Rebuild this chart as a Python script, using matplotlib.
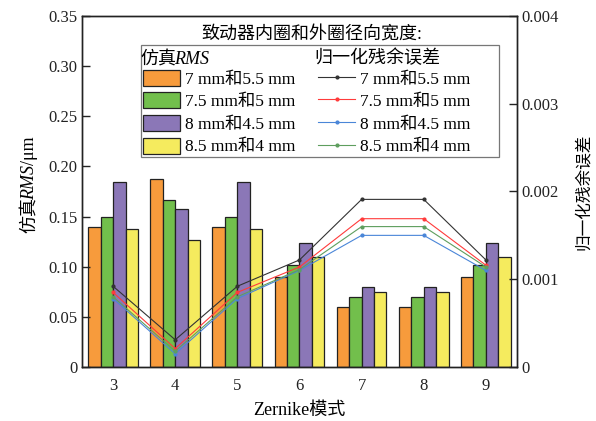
import matplotlib
matplotlib.use("Agg")
import matplotlib.pyplot as plt
import numpy as np
from matplotlib.patches import Patch
from matplotlib.lines import Line2D

plt.rcParams['font.family'] = ['Liberation Serif', 'Noto Sans CJK SC']
plt.rcParams['axes.unicode_minus'] = False

modes = [3, 4, 5, 6, 7, 8, 9]
series_labels = ['7 mm和5.5 mm', '7.5 mm和5 mm', '8 mm和4.5 mm', '8.5 mm和4 mm']
rms_7_55 = [0.140, 0.187, 0.140, 0.090, 0.060, 0.060, 0.090]
rms_75_5 = [0.150, 0.167, 0.150, 0.102, 0.070, 0.070, 0.102]
rms_8_45 = [0.184, 0.158, 0.184, 0.124, 0.080, 0.080, 0.124]
rms_85_4 = [0.138, 0.127, 0.138, 0.110, 0.075, 0.075, 0.110]
err_7_55 = [0.00092, 0.00031, 0.00092, 0.00122, 0.00191, 0.00191, 0.00122]
err_75_5 = [0.00085, 0.00021, 0.00085, 0.00114, 0.00169, 0.00169, 0.00116]
err_8_45 = [0.00078, 0.00015, 0.00078, 0.00110, 0.00150, 0.00150, 0.00110]
err_85_4 = [0.00080, 0.00018, 0.00080, 0.00111, 0.00160, 0.00160, 0.00114]

bar_colors = ['#F79B3C', '#72BF4C', '#8B77B7', '#F5EB5E']
line_colors = ['#333333', '#FF3B3B', '#4A86D8', '#5E9E5E']
rms = [rms_7_55, rms_75_5, rms_8_45, rms_85_4]
errs = [err_7_55, err_75_5, err_8_45, err_85_4]

fig = plt.figure(figsize=(5.96, 4.21), dpi=100)
ax = fig.add_axes([0.1376, 0.1283, 0.7298, 0.8337])
ax2 = ax.twinx()
ax.set_zorder(1)
ax.patch.set_visible(False)
ax2.set_zorder(2)

x = np.arange(len(modes))
w = 0.2
for i in range(4):
    ax.bar(x + (i - 1.5) * w, rms[i], w, color=bar_colors[i], edgecolor='#222222', linewidth=0.9)

for i in range(4):
    ax2.plot(x, errs[i], color=line_colors[i], lw=0.8, marker='o', ms=2)

ax.set_xlim(-0.5, len(modes) - 0.5)
ax.set_ylim(0, 0.35)
ax2.set_ylim(0, 0.004)
ax.set_xticks(x)
ax.set_xticklabels([str(m) for m in modes])
yt = [0, 0.05, 0.10, 0.15, 0.20, 0.25, 0.30, 0.35]
ax.set_yticks(yt)
ax.set_yticklabels(['0'] + ['%.2f' % v for v in yt[1:]])
yt2 = [0, 0.001, 0.002, 0.003, 0.004]
ax2.set_yticks(yt2)
ax2.set_yticklabels(['0'] + ['%.3f' % v for v in yt2[1:]])

ax.tick_params(axis='y', direction='in', length=6, width=1, labelsize=12, colors='#222222')
ax.tick_params(axis='x', length=0, labelsize=12, pad=8, colors='#222222')
ax2.tick_params(axis='y', direction='in', length=6, width=1, labelsize=12, colors='#222222')
for a in (ax, ax2):
    for s in a.spines.values():
        s.set_linewidth(1.0)
        s.set_color('#222222')

ax2.set_ylabel('归一化残余误差', fontsize=12, labelpad=12)
ax.set_xlabel('Zernike模式', fontsize=13, labelpad=6)

# legend
hdr = Patch(visible=False)
handles = [hdr] + [Patch(facecolor=bar_colors[i], edgecolor='#222222', linewidth=0.9) for i in range(4)]
handles += [hdr] + [Line2D([], [], color=line_colors[i], lw=0.8, marker='o', ms=2) for i in range(4)]
labels = [''] + series_labels + [''] + [s + '      ' for s in series_labels]
leg = ax2.legend(handles, labels, ncol=2, loc='upper left', bbox_to_anchor=(0.136, 0.917),
                 fontsize=12.5, frameon=True, fancybox=False, edgecolor='#555555',
                 handlelength=2.13, handleheight=1.05, handletextpad=0.3, labelspacing=0.27,
                 columnspacing=1.3, borderpad=0.1, borderaxespad=0.0)
leg.get_frame().set_linewidth(0.9)

fig.text(0.523, 0.918, '致动器内圈和外圈径向宽度:', fontsize=13, ha='center', va='center')

fig.canvas.draw()
renderer = fig.canvas.get_renderer()
inv = fig.transFigure.inverted()

cjk = ['Noto Sans CJK SC', 'Liberation Serif']
ser = ['Liberation Serif', 'Noto Sans CJK SC']


def gap_of(fam):
    return 3.0 if fam is cjk else 0.0


def place_row(x0, yc, pieces, fontsize):
    cur = x0
    for s, style, fam in pieces:
        t = fig.text(0, 0, s, fontsize=fontsize, fontstyle=style, family=fam,
                     ha='left', va='baseline', zorder=10)
        fx, fy = inv.transform((cur, yc - fontsize * 100 / 72 * 0.36))
        t.set_position((fx, fy))
        bb = t.get_window_extent(renderer)
        cur += bb.width - gap_of(fam)


def place_col(xc, yc, pieces, fontsize):
    texts = []
    for s, style, fam in pieces:
        t = fig.text(0, 0, s, fontsize=fontsize, fontstyle=style, family=fam,
                     rotation=90, ha='center', va='bottom')
        texts.append((t, fam))
    hts = [t.get_window_extent(renderer).height - gap_of(fam) for t, fam in texts]
    cur = yc - sum(hts) / 2
    for (t, fam), h in zip(texts, hts):
        t.set_position(tuple(inv.transform((xc, cur))))
        cur += h


hs = leg.legend_handles
for col, pieces in [(0, [('仿真', 'normal', cjk), ('RMS', 'italic', ser)]),
                    (5, [('归一化残余误差', 'normal', cjk)])]:
    b1 = hs[col + 1].get_window_extent()
    b2 = hs[col + 2].get_window_extent()
    step = (b1.y0 + b1.y1) / 2 - (b2.y0 + b2.y1) / 2
    place_row(b1.x0 - 2, (b1.y0 + b1.y1) / 2 + step - 3, pieces, 13)

place_col(30, 421 - 185, [('仿真', 'normal', cjk), ('RMS', 'italic', ser), ('/μm', 'normal', ser)], 13)

fig.savefig('out.png', dpi=100)
